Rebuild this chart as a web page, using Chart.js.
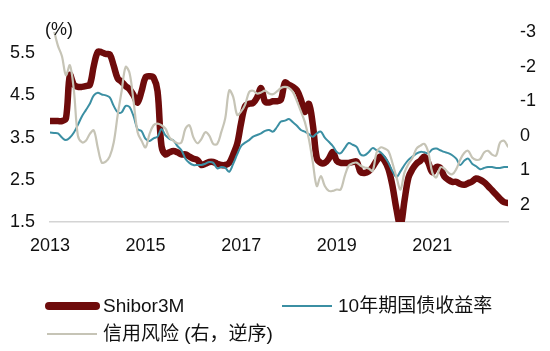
<!DOCTYPE html>
<html>
<head>
<meta charset="utf-8">
<script src="https://cdn.jsdelivr.net/npm/chart.js@4"></script>
<style>
  body { margin: 0; background: #fff; }
  #wrap { position: relative; width: 550px; height: 351px; }
  canvas { position: absolute; left: 0; top: 0; }
  .leg { position: absolute; font: 19px "Liberation Sans", "Noto Sans CJK SC", sans-serif; color: #111; line-height: 22px; }
  .sw { position: absolute; border-radius: 4px; }
</style>
</head>
<body>
<div id="wrap">
  <canvas id="grafico" width="550" height="351"></canvas>
  <div class="sw" style="left:45px;top:302px;width:55px;height:8px;background:#6e0b0b"></div>
  <div class="leg" style="left:103px;top:295px">Shibor3M</div>
  <div class="sw" style="left:282px;top:305px;width:50px;height:2px;background:#3b8fa3;border-radius:0"></div>
  <div class="leg" style="left:338px;top:295px">10年期国债收益率</div>
  <div class="sw" style="left:47px;top:333px;width:50px;height:2px;background:#c6c4b6;border-radius:0"></div>
  <div class="leg" style="left:103px;top:323px">信用风险 (右，逆序)</div>
</div>
<script>
// monthly data, Jan 2013 - Aug 2022
const meses = [];
for (let a = 2013; a <= 2022; a++) {
  for (let m = 1; m <= 12; m++) {
    if (a === 2022 && m > 8) break;
    meses.push(a + '-' + String(m).padStart(2, '0'));
  }
}

const xTicks = ['2013', '2015', '2017', '2019', '2021'];
const ticksEsq = [1.5, 2.5, 3.5, 4.5, 5.5];
const ticksDir = [-3, -2, -1, 0, 1, 2];

const shibor3m = [
  3.89, 3.89, 3.89, 3.89, 3.95, 4.98, 4.75, 4.7, 4.7, 4.72, 4.75, 5.2,
  5.53, 5.52, 5.48, 5.47, 5.2, 4.9, 4.82, 4.72, 4.64, 4.5, 4.33, 4.6,
  4.93, 4.95, 4.92, 4.6, 3.3, 3.1, 3.15, 3.18, 3.15, 3.1, 3.1, 3.05,
  3.0, 2.97, 2.85, 2.88, 2.92, 2.92, 2.88, 2.85, 2.85, 2.9, 3.1, 3.35,
  3.85, 4.25, 4.3, 4.32, 4.45, 4.67, 4.35, 4.33, 4.36, 4.36, 4.4, 4.8,
  4.75, 4.7, 4.62, 4.4, 4.11, 4.3, 3.8, 3.01, 2.9, 2.9, 3.0, 3.16,
  2.95, 2.9, 2.9, 2.9, 2.92, 2.93, 2.68, 2.66, 2.7, 2.8, 2.95, 3.05,
  2.95, 2.75, 2.35, 1.8, 1.4, 2.0, 2.55, 2.75, 2.88, 2.95, 3.05, 2.9,
  2.68, 2.8, 2.78, 2.58, 2.5, 2.45, 2.45, 2.4, 2.38, 2.42, 2.46, 2.53,
  2.5, 2.44, 2.35, 2.25, 2.15, 2.05, 1.97, 1.95
];

const gov10y = [
  3.62, 3.61, 3.6, 3.5, 3.44, 3.5, 3.62, 3.8, 4.0, 4.15, 4.3, 4.5,
  4.56, 4.52, 4.5, 4.45, 4.25, 4.1, 4.1, 4.25, 4.22, 4.0, 3.7, 3.65,
  3.47, 3.42, 3.48, 3.52, 3.7, 3.55, 3.47, 3.43, 3.3, 3.2, 3.0, 2.9,
  2.85, 2.85, 2.85, 2.88, 2.92, 2.9, 2.77, 2.8, 2.78, 2.69, 2.88, 3.1,
  3.3, 3.38, 3.44, 3.52, 3.56, 3.6, 3.66, 3.68, 3.64, 3.75, 3.88, 3.9,
  3.94, 3.86, 3.78, 3.68, 3.64, 3.58, 3.52, 3.6, 3.64, 3.5, 3.4, 3.3,
  3.16, 3.13, 3.25, 3.37, 3.33, 3.28, 3.1, 3.08, 3.15, 3.25, 3.2, 3.15,
  3.05, 2.9, 2.7, 2.57, 2.7, 2.85, 2.97, 3.05, 3.12, 3.16, 3.15, 3.13,
  3.22, 3.24, 3.2, 3.16, 3.13, 3.08, 3.0, 2.85, 2.95, 3.0, 2.88, 2.82,
  2.75, 2.78, 2.8, 2.8, 2.78, 2.78, 2.8, 2.8
];

const riscoCredito = [
  -3.6, -3.05, -2.6, -2.3, -1.75, -2.04, -1.3, 0.0, 0.19, 0.15, -0.05, -0.15,
  0.35, 0.78, 0.75, 0.6, 0.2, -0.6, -1.3, -1.99, -1.8, -0.97, -0.1, 0.15,
  0.34, -0.05, -0.3, -0.35, -0.3, -0.2, 0.05, 0.15, 0.22, 0.2, -0.2, -0.3,
  0.05, 0.22, 0.1, -0.1, 0.0, 0.24, 0.24, -0.1, -0.5, -1.31, -1.12, -0.6,
  -0.7, -0.9, -1.26, -1.3, -1.22, -1.25, -1.3, -1.22, -1.2, -1.28, -1.38, -1.41,
  -1.38, -1.26, -1.0, -0.7, -0.39, 0.1, 0.78, 1.46, 1.17, 1.46, 1.6, 1.6,
  1.56, 1.56, 1.17, 0.87, 0.8, 0.78, 0.87, 0.92, 0.95, 1.02, 0.49, 0.34,
  0.37, 0.45, 0.8, 1.2, 1.56, 1.07, 0.82, 0.65, 0.38, 0.29, 0.24, 0.49,
  1.07, 1.21, 0.92, 0.95, 1.07, 1.12, 0.97, 0.7, 0.5, 0.44, 0.63, 0.7,
  0.68, 0.49, 0.44, 0.55, 0.58, 0.2, 0.15, 0.32
];

const fonte = { family: '"Liberation Sans", "Noto Sans CJK SC", sans-serif', size: 18 };

// "(%)" label above the left axis
const rotuloPct = {
  id: 'rotuloPct',
  afterDraw(chart) {
    const ctx = chart.ctx;
    ctx.save();
    ctx.font = '18px "Liberation Sans", sans-serif';
    ctx.fillStyle = '#111';
    ctx.textAlign = 'left';
    ctx.textBaseline = 'middle';
    ctx.fillText('(%)', 45, 30);
    ctx.restore();
  }
};

new Chart(document.getElementById('grafico'), {
  type: 'line',
  data: {
    labels: meses,
    datasets: [
      {
        label: 'Shibor3M',
        data: shibor3m,
        yAxisID: 'y',
        borderColor: '#6e0b0b',
        borderWidth: 6.5,
        order: 2,
        clip: 0
      },
      {
        label: '10年期国债收益率',
        data: gov10y,
        yAxisID: 'y',
        borderColor: '#3b8fa3',
        borderWidth: 2,
        order: 1,
        clip: 0
      },
      {
        label: '信用风险 (右，逆序)',
        data: riscoCredito,
        yAxisID: 'y2',
        borderColor: '#c6c4b6',
        borderWidth: 2.2,
        order: 0,
        clip: 0
      }
    ]
  },
  options: {
    responsive: false,
    animation: false,
    layout: { padding: { top: 32, left: 0, right: 0, bottom: 0 } },
    elements: {
      point: { radius: 0 },
      line: { tension: 0.35, borderCapStyle: 'round', borderJoinStyle: 'round' }
    },
    plugins: { legend: { display: false }, tooltip: { enabled: false } },
    scales: {
      x: {
        type: 'category',
        offset: false,
        grid: { display: false, drawTicks: false },
        border: { display: true, color: '#d4d4d4', width: 1.5 },
        afterBuildTicks(scale) {
          scale.ticks = meses
            .map((m, i) => ({ value: i, m }))
            .filter(t => t.m.endsWith('-01') && xTicks.includes(t.m.slice(0, 4)))
            .map(t => ({ value: t.value }));
        },
        afterFit(scale) { scale.height = 129; },
        ticks: {
          autoSkip: false,
          maxRotation: 0,
          padding: 13,
          color: '#111',
          font: fonte,
          callback: v => meses[v].slice(0, 4)
        }
      },
      y: {
        position: 'left',
        min: 1.5,
        max: 6.0,
        grid: { display: false, drawTicks: false },
        border: { display: false },
        afterBuildTicks(scale) { scale.ticks = ticksEsq.map(v => ({ value: v })); },
        afterFit(scale) { scale.width = 50; },
        ticks: { padding: 15, color: '#111', font: fonte, callback: v => v.toFixed(1) }
      },
      y2: {
        position: 'right',
        reverse: true,
        min: -3,
        max: 2.5,
        grid: { display: false, drawTicks: false },
        border: { display: false },
        afterBuildTicks(scale) { scale.ticks = ticksDir.map(v => ({ value: v })); },
        afterFit(scale) { scale.width = 42; },
        ticks: { padding: 12, color: '#111', font: fonte }
      }
    }
  },
  plugins: [rotuloPct]
});
</script>
</body>
</html>
